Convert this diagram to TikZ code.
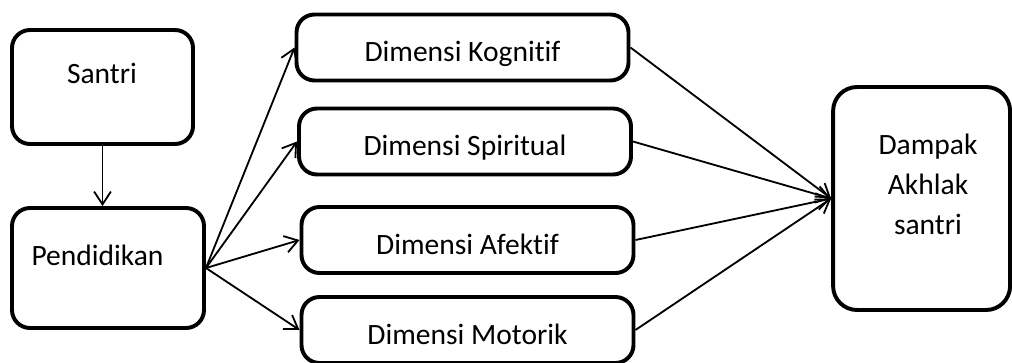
\documentclass[tikz,border=0pt]{standalone}
\usepackage{fontspec}
\setmainfont{Carlito}[Ligatures=NoCommon]
\usetikzlibrary{arrows.meta}
\tikzset{
  kotak/.style={draw, line width=2.8pt, rounded corners=0.45cm, inner sep=0pt},
  dimensi/.style={kotak, minimum width=8.3cm, minimum height=1.65cm,
    text height=0.85cm, text depth=0.15cm},
  panah/.style={-{Straight Barb[length=0.32cm,width=0.42cm]}, line width=1.3pt},
}
\begin{document}
\begin{tikzpicture}[font=\fontsize{21}{28.5}\selectfont]
  \useasboundingbox (0,0) rectangle (25.3,9.05);
  % kotak kiri
  \node[kotak, minimum width=4.525cm, minimum height=2.85cm] (santri) at (2.5625,6.875) {};
  \node (santri-t) at (2.55,7.225) {Santri};
  \node[kotak, minimum width=4.8cm, minimum height=3cm] (pend) at (2.7,2.35) {};
  \node (pend-t) at (2.4375,2.675) {Pendidikan};
  % empat dimensi
  \node[dimensi] (kog) at (11.5625,7.8625) {Dimensi Kognitif};
  \node[dimensi] (spi) at (11.625,5.5125) {Dimensi Spiritual};
  \node[dimensi] (afe) at (11.6875,3.05) {Dimensi Afektif};
  \node[dimensi] (mot) at (11.6875,0.8) {Dimensi Motorik};
  % kotak kanan
  \node[kotak, rounded corners=0.6cm, minimum width=4.425cm, minimum height=5.575cm] (dampak) at (23.04,4.0875) {};
  \node[align=center] (dampak-t) at (23.2,4.45) {Dampak\\Akhlak\\santri};
  % panah
  \draw[panah] (santri.south) -- (santri.south |- pend.north);
  \foreach \d in {kog,spi,afe,mot} {
    \draw[panah] (pend.east) -- (\d.west);
    \draw[panah] (\d.east) -- (dampak.west);
  }
\end{tikzpicture}
\end{document}
